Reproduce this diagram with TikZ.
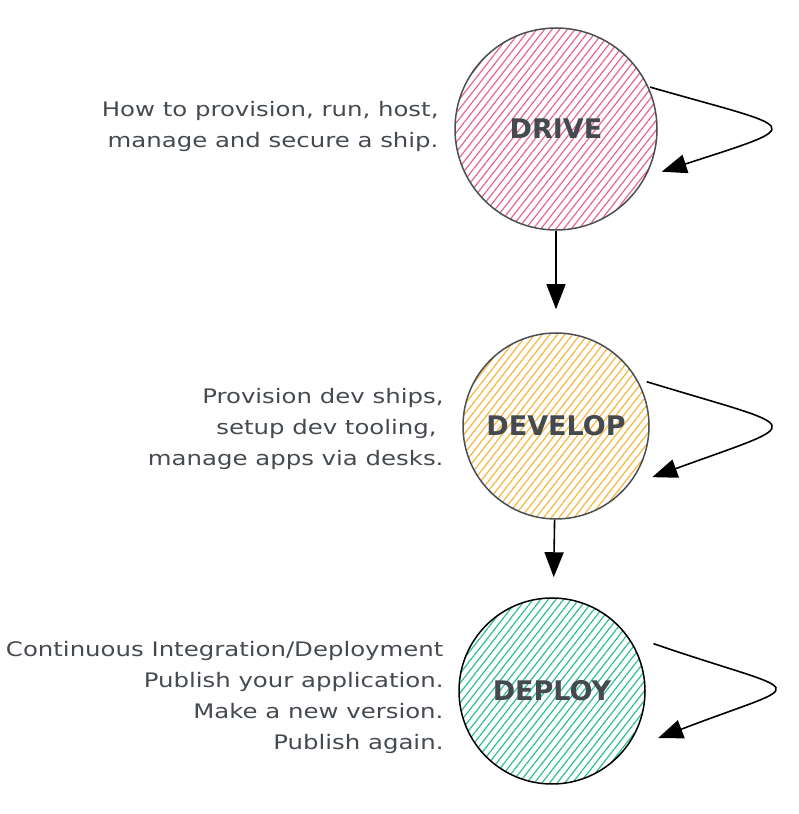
\documentclass[tikz,border=0pt]{standalone}
\usepackage{fontspec}
\setmainfont{DejaVu Sans}
\newfontfamily\handfont[FakeStretch=1.22]{DejaVu Sans}
\usetikzlibrary{positioning, calc, arrows.meta, patterns.meta}

\definecolor{ink}{HTML}{454A50}
\definecolor{rim}{HTML}{4A4F55}
\definecolor{pinkhatch}{HTML}{E6658F}
\definecolor{yellowhatch}{HTML}{F6B63A}
\definecolor{greenhatch}{HTML}{2EBE94}

\tikzset{
  stage/.style={circle, draw=rim, line width=1.5pt, minimum size=#1, inner sep=0pt,
    font=\fontsize{27}{30}\selectfont\bfseries, text=ink},
  hatch/.style={pattern={Lines[angle=52,distance=6pt,line width=1.2pt]}, pattern color=#1},
  note/.style={align=right, anchor=east, text=ink, font=\handfont\fontsize{20}{31}\selectfont},
  flow/.style={-{Triangle[length=25pt,width=19pt]}, line width=1.6pt, black},
}

\begin{document}
\begin{tikzpicture}[x=1pt, y=1pt]
\useasboundingbox (0,0) rectangle (798,814);

\node[stage=202pt, hatch=pinkhatch]   (drive)   at (556,685) {DRIVE};
\node[stage=186pt, hatch=yellowhatch] (develop) at (556,388) {DEVELOP};
\node[stage=186pt, hatch=greenhatch, draw=black] (deploy) at (552,123) {DEPLOY};

\node[note] (drivenote)   at (442,688) {How to provision, run, host,\\manage and secure a ship.};
\node[note] (developnote) at (447,385) {Provision dev ships,\\setup dev tooling,\hphantom{i}\\manage apps via desks.};
\node[note] (deploynote)  at (447,117) {Continuous Integration/Deployment\\Publish your application.\\Make a new version.\\Publish again.};

% loop ends
\coordinate (driveout)    at ($(drive.center)+(24:103)$);
\coordinate (driveback)   at ($(drive.center)+(-22:114)$);
\coordinate (developout)  at ($(develop.center)+(26:101)$);
\coordinate (developback) at ($(develop.center)+(-28:109)$);
\coordinate (deployout)   at ($(deploy.center)+(25:112)$);
\coordinate (deployback)  at ($(deploy.center)+(-24:116)$);

\draw[flow, shorten >=23pt] (drive) -- (develop);
\draw[flow, shorten >=20pt] (develop) -- (deploy);

\draw[flow] (driveout)   to[out=-16, in=18, looseness=4.7] (driveback);
\draw[flow] (developout) to[out=-17, in=20, looseness=4.5] (developback);
\draw[flow] (deployout)  to[out=-19, in=21, looseness=4.5] (deployback);
\end{tikzpicture}
\end{document}
